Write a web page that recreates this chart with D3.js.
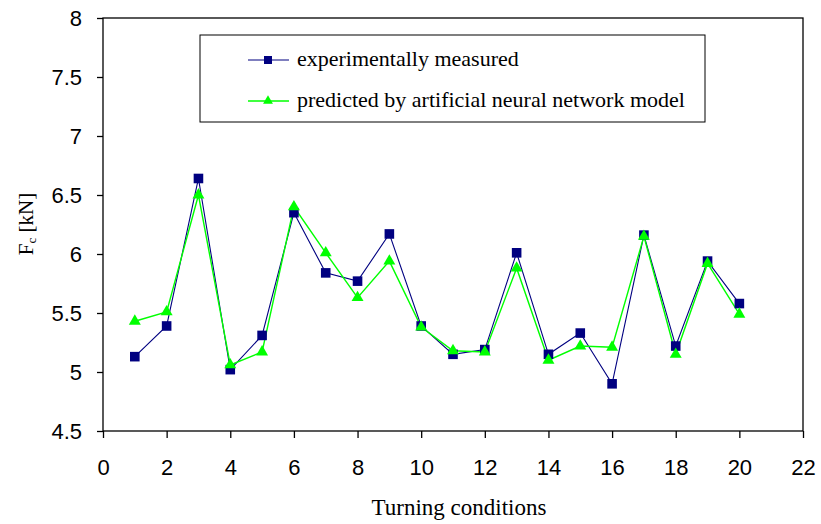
<!DOCTYPE html>
<html>
<head>
<meta charset="UTF-8">
<style>
  body { margin: 0; background: #fff; }
  .tick text { font-family: "Liberation Sans", Arial, sans-serif; font-size: 22px; fill: #000; }
  .serif { font-family: "Liberation Serif", "Times New Roman", serif; fill: #000; }
</style>
</head>
<body>
<svg id="chart" width="821" height="524"></svg>
<script src="https://d3js.org/d3.v7.min.js"></script>
<script>
// turning condition number
const conditions = d3.range(1, 21);
// measured cutting force Fc [kN]
const measured = [5.13, 5.39, 6.64, 5.02, 5.31, 6.35, 5.84, 5.77, 6.17, 5.39,
                  5.15, 5.19, 6.01, 5.15, 5.33, 4.90, 6.16, 5.22, 5.94, 5.58];
// ANN prediction
const predicted = [5.43, 5.51, 6.50, 5.06, 5.17, 6.40, 6.01, 5.63, 5.94, 5.38,
                   5.18, 5.17, 5.88, 5.10, 5.22, 5.21, 6.15, 5.15, 5.92, 5.49];
const xTicks = d3.range(0, 23, 2);
const yTicks = [4.5, 5, 5.5, 6, 6.5, 7, 7.5, 8];

const svg = d3.select("#chart");
const m = { left: 103, right: 803, top: 18, bottom: 431 };

const x = d3.scaleLinear().domain([0, 22]).range([m.left, m.right]);
const y = d3.scaleLinear().domain([4.5, 8]).range([m.bottom, m.top]);

// frame
svg.append("rect")
  .attr("x", m.left).attr("y", m.top)
  .attr("width", m.right - m.left).attr("height", m.bottom - m.top)
  .attr("fill", "none").attr("stroke", "#000").attr("stroke-width", 1.3);

const xAxis = svg.append("g")
  .attr("transform", `translate(0,${m.bottom})`)
  .call(d3.axisBottom(x).tickValues(xTicks).tickSize(7).tickPadding(21).tickFormat(d3.format("d")));
xAxis.select(".domain").remove();

const yAxis = svg.append("g")
  .attr("transform", `translate(${m.left},0)`)
  .call(d3.axisLeft(y).tickValues(yTicks).tickSize(6).tickPadding(15).tickFormat(d => d));
yAxis.select(".domain").remove();
svg.selectAll(".tick line").attr("stroke", "#000").attr("stroke-width", 1.3);

// axis titles
svg.append("text").attr("class", "serif")
  .attr("x", 459).attr("y", 515)
  .attr("text-anchor", "middle").attr("font-size", 23)
  .text("Turning conditions");

const yl = svg.append("text").attr("class", "serif")
  .attr("transform", "translate(33,224) rotate(-90)")
  .attr("text-anchor", "middle").attr("font-size", 21);
yl.append("tspan").text("F");
yl.append("tspan").attr("font-size", 13).attr("dy", 3).text("c");
yl.append("tspan").attr("dy", -3).text(" [kN]");

const line = d3.line().x((d, i) => x(conditions[i])).y(d => y(d));

const series = [
  { name: "experimentally measured", values: measured, color: "#000080", shape: d3.symbolSquare, size: 92, legSize: 64, width: 1.1 },
  { name: "predicted by artificial neural network model", values: predicted, color: "#00ff00", shape: d3.symbolTriangle, size: 62, legSize: 42, width: 1.4 }
];

series.forEach(s => {
  svg.append("path").datum(s.values)
    .attr("d", line).attr("fill", "none")
    .attr("stroke", s.color).attr("stroke-width", s.width);
});
series.forEach(s => {
  svg.selectAll(null).data(s.values).enter().append("path")
    .attr("d", d3.symbol().type(s.shape).size(s.size))
    .attr("transform", (d, i) => `translate(${x(conditions[i])},${y(d)})`)
    .attr("fill", s.color);
});

// legend
const lg = svg.append("g");
lg.append("rect").attr("x", 200).attr("y", 35).attr("width", 505).attr("height", 87)
  .attr("fill", "#fff").attr("stroke", "#000").attr("stroke-width", 1);
series.forEach((s, i) => {
  const ly = 60 + i * 41;
  lg.append("line").attr("x1", 248).attr("x2", 289).attr("y1", ly).attr("y2", ly)
    .attr("stroke", s.color).attr("stroke-width", s.width);
  lg.append("path").attr("d", d3.symbol().type(s.shape).size(s.legSize))
    .attr("transform", `translate(268,${ly})`).attr("fill", s.color);
  lg.append("text").attr("class", "serif").attr("x", 297).attr("y", ly + 6)
    .attr("font-size", 22).text(s.name);
});
</script>
</body>
</html>
